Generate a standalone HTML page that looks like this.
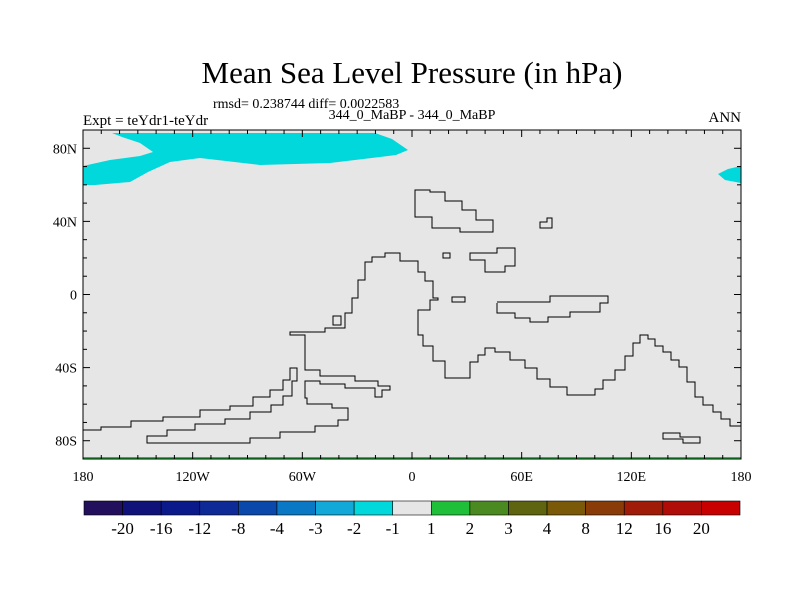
<!DOCTYPE html>
<html><head><meta charset="utf-8"><style>
body{margin:0;background:#fff;}
svg{display:block;font-family:"Liberation Serif",serif;}
</style></head><body>
<svg id="c" width="800" height="600">
<text x="412" y="83" font-size="31" text-anchor="middle">Mean Sea Level Pressure (in hPa)</text>
<text x="213" y="108" font-size="14">rmsd= 0.238744 diff= 0.0022583</text>
<text x="412" y="119" font-size="14" text-anchor="middle">344_0_MaBP - 344_0_MaBP</text>
<text x="83" y="125" font-size="15">Expt = teYdr1-teYdr</text>
<text x="741" y="122" font-size="15" text-anchor="end">ANN</text>
<rect x="83" y="130" width="658" height="329" fill="#e6e6e6"/>
<path d="M112,133 L375,133 L392,139 L408,150 L396,155 L330,163 L260,165 L200,158 L170,162 L148,172 L130,182 L95,185 L83,185 L83,166 L110,160 L140,156 L153,152 L140,143 L122,137 Z" fill="#00d8dc"/>
<path d="M741,166 L728,169 L718,174 L725,180 L741,183 Z" fill="#00d8dc"/>
<g fill="none" stroke="#000" stroke-width="1">
<path d="M83,423 L83,430 L101,430 L101,427 L131,427 L131,421 L163,421 L163,417 L200,417 L200,410 L230,410 L230,406 L253,406 L253,397 L270,397 L270,390 L283,390 L283,380 L290,380 L290,368 L297,368 L297,381 L292,381 L292,396 L283,396 L283,405 L271,405 L271,412 L250,412 L250,419 L225,419 L225,424 L195,424 L195,430 L167,430 L167,436 L147,436 L147,443 L250,443 L250,438 L280,438 L280,432 L315,432 L315,426 L338,426 L338,420 L348,420 L348,408 L332,408 L332,404 L307,404 L307,398 L305,398 L305,381 L320,381 L320,384 L345,384 L345,388 L375,388 L375,397 L382,397 L382,390 L390,390 L390,386 L378,386 L378,381 L355,381 L355,376 L320,376 L320,370 L305,370 L305,335 L290,335 L290,332 L325,332 L325,328 L345,328 L345,313 L352,313 L352,298 L358,298 L358,280 L365,280 L365,262 L372,262 L372,257 L385,257 L385,253 L400,253 L400,261 L418,261 L418,272 L425,272 L425,281 L433,281 L433,298 L438,298 L438,300 L430,300 L430,310 L418,310 L418,335 L423,335 L423,346 L433,346 L433,361 L445,361 L445,378 L470,378 L470,362 L478,362 L478,355 L485,355 L485,348 L495,348 L495,352 L510,352 L510,360 L525,360 L525,368 L537,368 L537,379 L550,379 L550,387 L567,387 L567,395 L595,395 L595,389 L603,389 L603,380 L615,380 L615,370 L625,370 L625,356 L633,356 L633,343 L640,343 L640,335 L648,335 L648,339 L655,339 L655,346 L663,346 L663,352 L671,352 L671,360 L679,360 L679,367 L687,367 L687,382 L695,382 L695,397 L703,397 L703,405 L713,405 L713,412 L721,412 L721,419 L730,419 L730,426 L741,426"/>
<path d="M497,303 L497,313 L515,313 L515,318 L530,318 L530,322 L548,322 L548,317 L570,317 L570,312 L600,312 L600,303 L608,303 L608,296 L550,296 L550,302 L497,302"/>
<path d="M415,190 L415,217 L432,217 L432,228 L460,228 L460,232 L493,232 L493,220 L476,220 L476,210 L462,210 L462,201 L445,201 L445,192 L430,192 L430,190 Z"/>
<path d="M470,253 L470,260 L485,260 L485,272 L505,272 L505,266 L515,266 L515,248 L497,248 L497,253 Z"/>
<path d="M540,228 L540,222 L547,222 L547,218 L552,218 L552,228 Z"/>
<path d="M443,253 L450,253 L450,258 L443,258 Z"/>
<path d="M452,297 L465,297 L465,302 L452,302 Z"/>
<path d="M333,316 L341,316 L341,325 L333,325 Z"/>
<path d="M663,433 L680,433 L680,437 L700,437 L700,443 L683,443 L683,439 L663,439 Z"/>
</g>
<line x1="83" y1="458" x2="741" y2="458" stroke="#1fbf3a" stroke-width="2"/>
<rect x="83" y="130" width="658" height="329" fill="none" stroke="#000" stroke-width="1"/>
<g id="ticks" stroke="#000"></g>
<g id="labels" font-size="14"></g>
<g id="cbar"></g>
</svg>
<script>
const lonTicks=[-180,-120,-60,0,60,120,180];
const lonLabels=["180","120W","60W","0","60E","120E","180"];
const latTicks=[80,40,0,-40,-80];
const latLabels=["80N","40N","0","40S","80S"];
const cbarLevels=["-20","-16","-12","-8","-4","-3","-2","-1","1","2","3","4","8","12","16","20"];
const cbarColors=["#22105c","#11117a","#0a1a8a","#0d2a96","#0a48ac","#0a78c4","#12a8d8","#00d8dc","#e6e6e6","#1fbf3a","#4a8a20","#5e6410","#7a5a08","#8a3c08","#a01c08","#b00c08","#c80000"];
const NS="http://www.w3.org/2000/svg";
const X0=83,X1=741,Y0=130,Y1=459;
const xs=l=>X0+(l+180)/360*(X1-X0);
const ys=l=>Y0+(90-l)/180*(Y1-Y0);
function mk(t,a,p){const e=document.createElementNS(NS,t);for(const k in a)e.setAttribute(k,a[k]);p.appendChild(e);return e;}
const tk=document.getElementById('ticks'),lb=document.getElementById('labels');
for(let l=-180;l<=180;l+=10){const x=xs(l);const len=l%60===0?7:4;
const a=mk('line',{x1:x,y1:Y1,x2:x,y2:Y1-len},tk);
const b=mk('line',{x1:x,y1:Y0,x2:x,y2:Y0+len},tk);}
for(let l=-90;l<=90;l+=10){const y=ys(l);const len=(l%40===0)?7:4;
const a=mk('line',{x1:X0,y1:y,x2:X0+len,y2:y},tk);
const b=mk('line',{x1:X1,y1:y,x2:X1-len,y2:y},tk);}
lonTicks.forEach((l,i)=>{const t=mk('text',{x:xs(l),y:481,'text-anchor':'middle'},lb);t.textContent=lonLabels[i];
});
latTicks.forEach((l,i)=>{const t=mk('text',{x:77,y:ys(l)+5,'text-anchor':'end'},lb);t.textContent=latLabels[i];
});
const cb=document.getElementById('cbar');const CX0=84,CX1=740,n=cbarColors.length,w=(CX1-CX0)/n;
cbarColors.forEach((c,i)=>{const r=mk('rect',{x:CX0+i*w,y:501,width:w,height:14,fill:c,stroke:'#000','stroke-width':0.6},cb);
});
cbarLevels.forEach((s,i)=>{const t=mk('text',{x:CX0+(i+1)*w,y:534,'text-anchor':'middle','font-size':17},cb);t.textContent=s;
});
</script>
</body></html>
